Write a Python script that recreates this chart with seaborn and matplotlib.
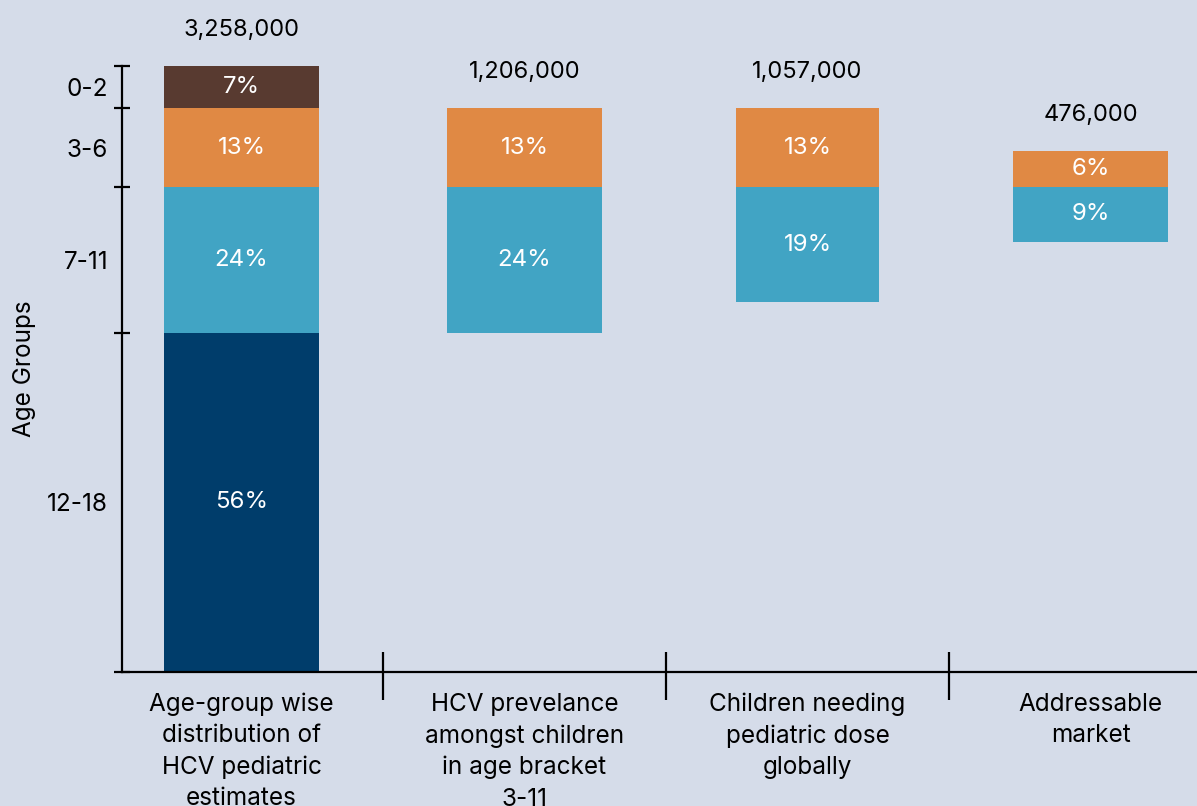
import matplotlib
matplotlib.use("Agg")
import matplotlib.pyplot as plt
import pandas as pd
import seaborn as sns

# Funnel stages (x categories)
stages = [
    "Age-group wise\ndistribution of\nHCV pediatric\nestimates",
    "HCV prevelance\namongst children\nin age bracket\n3-11",
    "Children needing\npediatric dose\nglobally",
    "Addressable\nmarket",
]
totals = [3258000, 1206000, 1057000, 476000]

# Age groups and their share of all pediatric HCV estimates (%)
age_groups = ["0-2", "3-6", "7-11", "12-18"]
age_share = [7, 13, 24, 56]

# Shares of the 3-6 and 7-11 groups at each stage (%)
share_3_6 = [13, 13, 13, 6]
share_7_11 = [24, 24, 19, 9]

# ---- styling ----
BG = "#d5dce9"
palette = {"0-2": "#583a30", "3-6": "#e08944", "7-11": "#41a4c4", "12-18": "#003d6b"}
bar_widths = [0.548, 0.548, 0.505, 0.548]
FONT = ["Inter", "DejaVu Sans"]

sns.set_theme(style="ticks")
plt.rcParams["font.family"] = FONT
plt.rcParams["axes.edgecolor"] = "black"
plt.rcParams["text.color"] = "black"

# Segment table: where each age-group block starts (measured from the top, in %)
cum_start = [sum(age_share[:i]) for i in range(len(age_share))]
split = age_share[0] + age_share[1]  # boundary between 3-6 and 7-11
rows = []
for g, s, st in zip(age_groups, age_share, cum_start):
    rows.append({"stage": stages[0], "idx": 0, "group": g, "share": s, "start": st})
for i in range(1, len(stages)):
    rows.append({"stage": stages[i], "idx": i, "group": "3-6",
                 "share": share_3_6[i], "start": split - share_3_6[i]})
    rows.append({"stage": stages[i], "idx": i, "group": "7-11",
                 "share": share_7_11[i], "start": split})
seg = pd.DataFrame(rows)

fig = plt.figure(figsize=(11.97, 8.06), dpi=100, facecolor=BG)
W, H = 1197, 806
ax = fig.add_axes([122 / W, (H - 672) / H, (W - 122) / W, (672 - 66) / H])
ax.set_facecolor(BG)

for i in range(len(seg)):
    row = seg.iloc[[i]]
    r = seg.iloc[i]
    sns.barplot(data=row, x="stage", y="share", order=stages,
                color=palette[r["group"]], bottom=r["start"],
                width=bar_widths[r["idx"]], errorbar=None,
                saturation=1, linewidth=0, ax=ax)
    ax.text(r["idx"], r["start"] + r["share"] / 2, f"{r['share']}%",
            ha="center", va="center", color="white", fontsize=17.3)

# Stage totals above each bar
tops = seg.groupby("idx")["start"].min()
for i, t in enumerate(totals):
    ax.annotate(f"{t:,}", xy=(i, tops[i]), xytext=(0, 26),
                textcoords="offset points", ha="center", va="center",
                fontsize=17, color="black")

ax.set_ylim(100, 0)
ax.set_xlim(-0.4223, 3.376)

# Y axis: boundaries as ticks, age group names centred in each band
bounds = cum_start + [100]
mids = [st + s / 2 for st, s in zip(cum_start, age_share)]
ax.set_yticks(bounds)
ax.set_yticklabels([])
ax.set_yticks(mids, minor=True)
ax.set_yticklabels(age_groups, minor=True, fontsize=17.5)
ax.tick_params(axis="y", which="major", direction="inout", length=11.5,
               width=1.6, color="black")
ax.tick_params(axis="y", which="minor", length=0, pad=10, labelcolor="black")

ax.set_ylabel("Age Groups", fontsize=17.5, color="black")
ax.yaxis.set_label_coords(-0.080, 0.5)

# X axis: stage names, with separators between stages
ax.set_xticks(range(len(stages)))
ax.set_xticklabels(stages, fontsize=17.5, linespacing=1.45, color="black")
ax.tick_params(axis="x", which="major", length=0, pad=15)
ax.set_xlabel("")
seps = [i + 0.5 for i in range(len(stages) - 1)]
ax.vlines(seps, -0.046, 0.033, transform=ax.get_xaxis_transform(),
          colors="black", linewidth=1.6, clip_on=False)

sns.despine(ax=ax, top=True, right=True)
for side in ("left", "bottom"):
    ax.spines[side].set_linewidth(1.6)
    ax.spines[side].set_color("black")

fig.savefig("out.png", dpi=100, facecolor=BG)
